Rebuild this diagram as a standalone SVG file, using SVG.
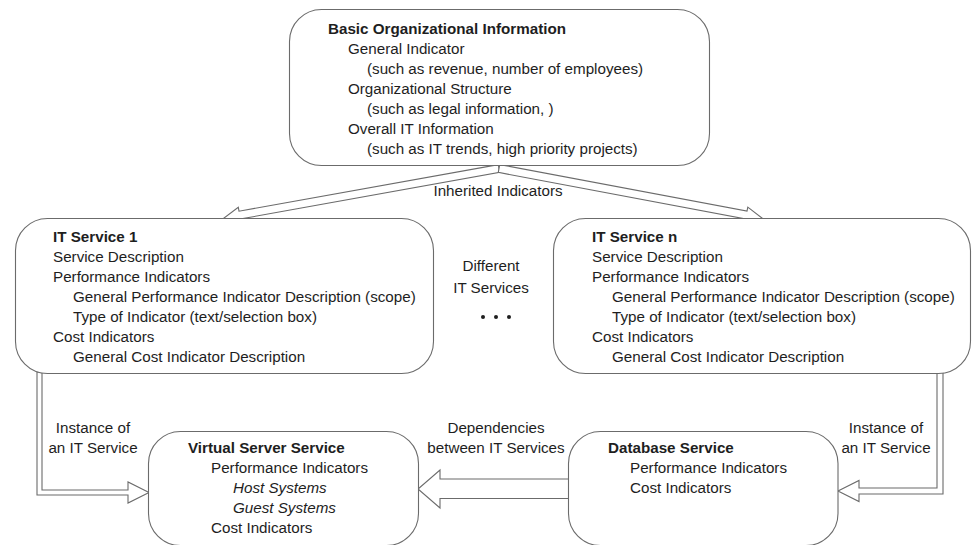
<svg xmlns="http://www.w3.org/2000/svg" width="972" height="545" viewBox="0 0 972 545">
<style>
.box{fill:#fff;stroke:#6b6b6b;stroke-width:1.1}
.arr{fill:#fff;stroke:#6b6b6b;stroke-width:1.1;stroke-linejoin:miter}
text{font-family:"Liberation Sans",Arial,sans-serif;font-size:15.2px;fill:#1e1e1e}
.b{font-weight:bold}
.i{font-style:italic}
.m{text-anchor:middle}
</style>
<rect width="972" height="545" fill="#fff"/>
<g id="connectors">
<polygon class="arr" points="498.3,164.6 239,211.2 238.3,207.2 224,218 241.1,223 240.4,219 499.7,172.4"/>
<polygon class="arr" points="499.7,164.6 747,211.1 747.8,207.1 762,218 744.8,222.9 745.6,218.9 498.3,172.4"/>
<polygon class="arr" points="37,372 37,495 128,495 128,503 149,492.5 128,482 128,490 42,490 42,372"/>
<polygon class="arr" points="943,372 943,494 859,494 859,501.5 838,491 859,480.5 859,488 937,488 937,372"/>
<polygon class="arr" points="570,479 440,479 440,470 418,489 440,508 440,498.5 570,498.5"/>
<text class="m" x="498" y="196">Inherited Indicators</text>
<text class="m" x="93" y="433">Instance of</text>
<text class="m" x="93" y="453">an IT Service</text>
<text class="m" x="886" y="433">Instance of</text>
<text class="m" x="886" y="453">an IT Service</text>
<text class="m" x="496" y="433">Dependencies</text>
<text class="m" x="496" y="453">between IT Services</text>
</g>
<g id="top">
<rect class="box" x="289.5" y="9.5" width="420" height="156" rx="32"/>
<text class="b" x="328" y="33.5">Basic Organizational Information</text>
<text x="348" y="53.5">General Indicator</text>
<text x="367" y="73.5">(such as revenue, number of employees)</text>
<text x="348" y="93.5">Organizational Structure</text>
<text x="367" y="113.5">(such as legal information, )</text>
<text x="348" y="133.5">Overall IT Information</text>
<text x="367" y="153.5">(such as IT trends, high priority projects)</text>
</g>
<g id="service1">
<rect class="box" x="15.5" y="218.5" width="418" height="155" rx="32"/>
<text class="b" x="53" y="242">IT Service 1</text>
<text x="53" y="262">Service Description</text>
<text x="53" y="282">Performance Indicators</text>
<text x="73" y="302">General Performance Indicator Description (scope)</text>
<text x="73" y="322">Type of Indicator (text/selection box)</text>
<text x="53" y="342">Cost Indicators</text>
<text x="73" y="362">General Cost Indicator Description</text>
</g>
<g id="different">
<text class="m" x="491" y="271">Different</text>
<text class="m" x="491" y="293">IT Services</text>
<circle cx="483" cy="317" r="2" fill="#1e1e1e"/>
<circle cx="496" cy="317" r="2" fill="#1e1e1e"/>
<circle cx="509" cy="317" r="2" fill="#1e1e1e"/>
</g>
<g id="serviceN">
<rect class="box" x="553.5" y="218.5" width="417" height="155" rx="32"/>
<text class="b" x="592" y="242">IT Service n</text>
<text x="592" y="262">Service Description</text>
<text x="592" y="282">Performance Indicators</text>
<text x="612" y="302">General Performance Indicator Description (scope)</text>
<text x="612" y="322">Type of Indicator (text/selection box)</text>
<text x="592" y="342">Cost Indicators</text>
<text x="612" y="362">General Cost Indicator Description</text>
</g>
<g id="virtual">
<rect class="box" x="148.5" y="431.5" width="270" height="114" rx="32"/>
<text class="b" x="188" y="453">Virtual Server Service</text>
<text x="211" y="473">Performance Indicators</text>
<text class="i" x="233" y="493">Host Systems</text>
<text class="i" x="233" y="513">Guest Systems</text>
<text x="211" y="533">Cost Indicators</text>
</g>
<g id="database">
<rect class="box" x="568.5" y="431.5" width="269.5" height="114" rx="32"/>
<text class="b" x="608" y="453">Database Service</text>
<text x="630" y="473">Performance Indicators</text>
<text x="630" y="493">Cost Indicators</text>
</g>
</svg>
